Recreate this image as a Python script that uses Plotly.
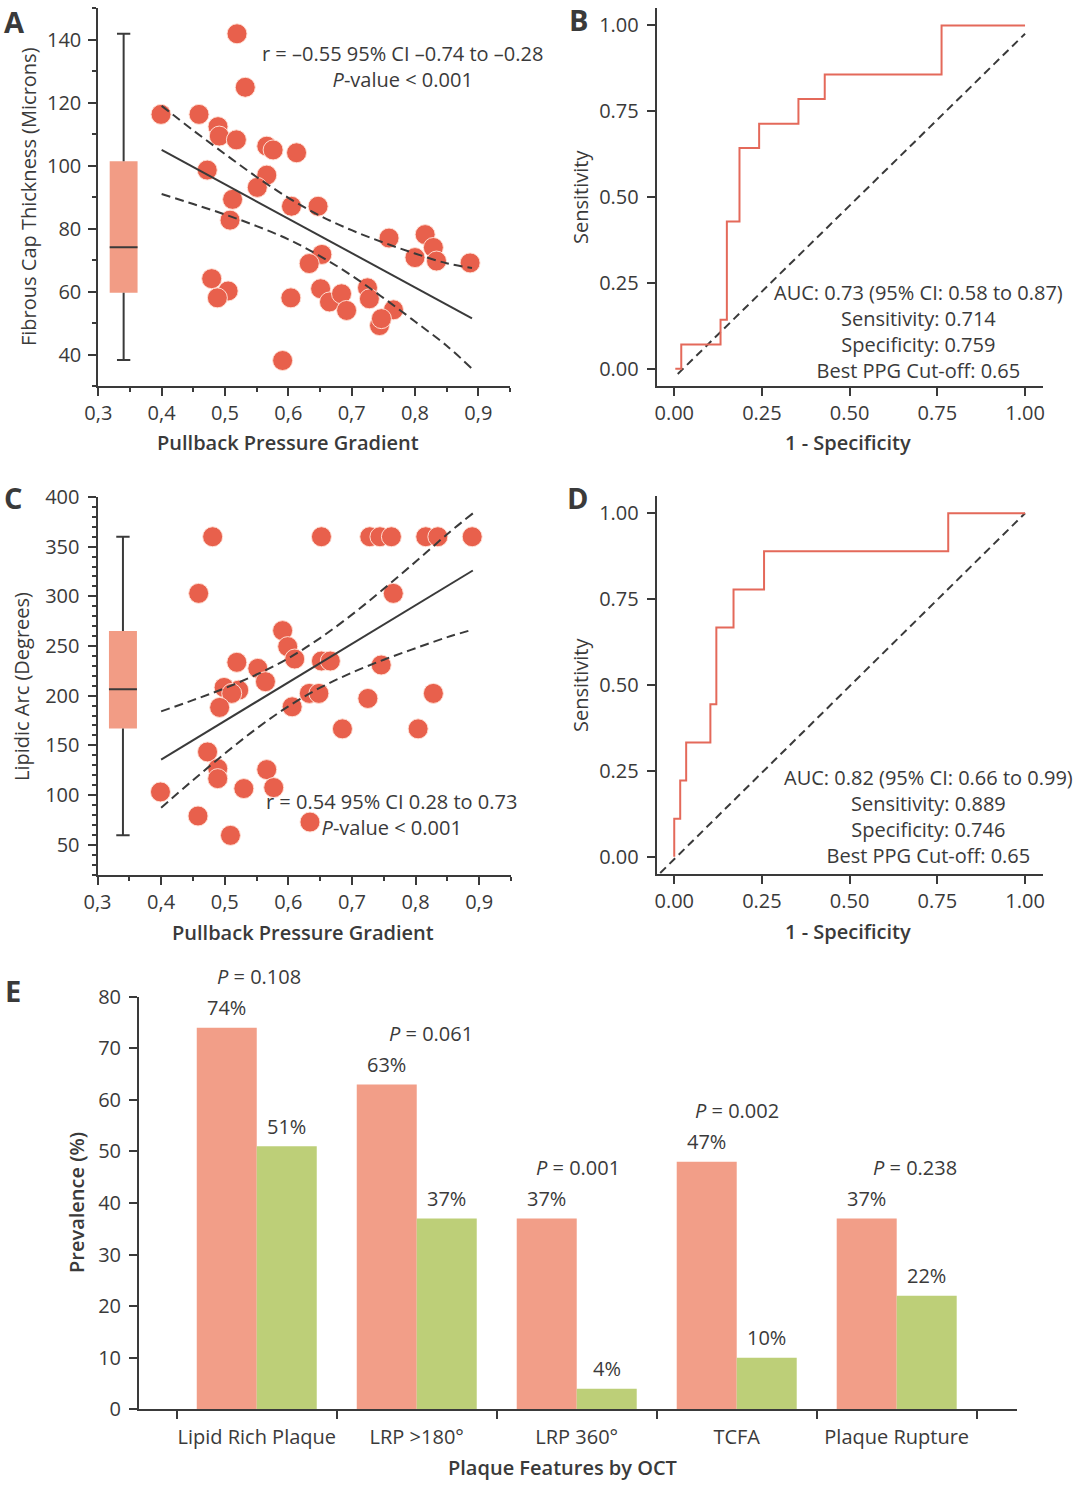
import plotly.graph_objects as go

# ---------------- data ----------------
ppg_ticks = [0.3, 0.4, 0.5, 0.6, 0.7, 0.8, 0.9]
ppg_ticktext = ["0,3", "0,4", "0,5", "0,6", "0,7", "0,8", "0,9"]

# Panel A: fibrous cap thickness vs PPG
ppg_a = [0.519, 0.532, 0.399, 0.459, 0.489, 0.491, 0.518, 0.566, 0.576, 0.613,
         0.472, 0.566, 0.551, 0.512, 0.605, 0.647, 0.508, 0.759, 0.816, 0.829,
         0.800, 0.834, 0.887, 0.653, 0.633, 0.479, 0.505, 0.488, 0.651, 0.665,
         0.684, 0.692, 0.604, 0.725, 0.728, 0.766, 0.744, 0.747, 0.591]
fct_a = [141.9, 124.9, 116.3, 116.3, 112.4, 109.4, 108.2, 106.2, 105.0, 104.1,
         98.6, 97.0, 93.1, 89.3, 87.1, 87.1, 82.7, 77.0, 78.1, 74.0,
         70.8, 69.7, 69.1, 71.8, 68.9, 64.1, 60.2, 58.0, 60.9, 56.7,
         59.3, 54.0, 58.0, 61.2, 57.7, 54.2, 49.2, 51.4, 38.1]
fct_box = [38.3, 59.6, 74.1, 101.4, 141.9]          # min, q1, median, q3, max
fit_a_x = [0.40, 0.89]
fit_a_y = [105.0, 51.5]
band_x = [0.40, 0.45, 0.50, 0.55, 0.60, 0.65, 0.70, 0.75, 0.80, 0.85, 0.89]
band_a_upper = [119.0, 111.2, 103.7, 96.4, 89.8, 84.1, 79.5, 75.6, 72.1, 69.0, 67.5]
band_a_lower = [91.0, 87.8, 84.5, 80.8, 76.6, 71.3, 65.1, 58.0, 50.5, 42.8, 35.5]
stats_a = ["r = –0.55 95% CI –0.74 to –0.28", "<i>P</i>-value < 0.001"]

# Panel B: ROC
roc_b_fpr = [0.003, 0.020, 0.132, 0.150, 0.186, 0.242, 0.354, 0.429, 0.762, 1.000]
roc_b_tpr = [0.000, 0.071, 0.143, 0.429, 0.643, 0.714, 0.786, 0.857, 1.000, 1.000]
diag_b_x = [0.01, 1.00]
diag_b_y = [-0.015, 0.976]
roc_b_text = ["AUC: 0.73 (95% CI: 0.58 to 0.87)", "Sensitivity: 0.714",
              "Specificity: 0.759", "Best PPG Cut-off: 0.65"]

# Panel C: lipidic arc vs PPG
ppg_c = [0.481, 0.652, 0.728, 0.744, 0.762, 0.816, 0.835, 0.889,
         0.459, 0.765,
         0.591, 0.599, 0.610, 0.519, 0.552, 0.652, 0.666, 0.746, 0.564,
         0.499, 0.522, 0.511,
         0.633, 0.648, 0.828, 0.725, 0.492, 0.606, 0.685, 0.804,
         0.473, 0.489, 0.489, 0.566, 0.399, 0.530, 0.577, 0.458, 0.634, 0.509]
arc_c = [360, 360, 360, 360, 360, 360, 360, 360,
         303, 303,
         265.5, 249.4, 236.9, 233.6, 227.5, 234.9, 234.9, 230.9, 214.1,
         208.3, 205.6, 202.3,
         202.3, 202.3, 202.3, 197.2, 188.2, 188.8, 166.6, 166.6,
         143.4, 126.6, 116.5, 125.6, 103.1, 106.5, 107.5, 78.9, 72.8, 59.4]
arc_box = [59.4, 167.0, 206.5, 265.0, 360.0]        # min, q1, median, q3, max
fit_c_x = [0.40, 0.89]
fit_c_y = [135.7, 326.0]
band_c_upper = [184.2, 195.5, 207.5, 221.3, 237.7, 258.0, 281.6, 307.6, 334.8, 362.7, 383.5]
band_c_lower = [87.2, 114.9, 141.7, 166.9, 189.3, 208.0, 223.2, 236.2, 247.8, 258.9, 266.5]
stats_c = ["r = 0.54 95% CI 0.28 to 0.73", "<i>P</i>-value < 0.001"]

# Panel D: ROC
roc_d_fpr = [0.000, 0.000, 0.017, 0.034, 0.103, 0.120, 0.169, 0.256, 0.781, 1.000]
roc_d_tpr = [0.000, 0.111, 0.222, 0.333, 0.444, 0.667, 0.778, 0.889, 1.000, 1.000]
diag_d_x = [-0.04, 1.00]
diag_d_y = [-0.047, 1.00]
roc_d_text = ["AUC: 0.82 (95% CI: 0.66 to 0.99)", "Sensitivity: 0.889",
              "Specificity: 0.746", "Best PPG Cut-off: 0.65"]

# Panel E: prevalence bars
features = ["Lipid Rich Plaque", "LRP >180°", "LRP 360°", "TCFA", "Plaque Rupture"]
prev_salmon = [74, 63, 37, 48, 37]
prev_green = [51, 37, 4, 10, 22]
labels_salmon = ["74%", "63%", "37%", "47%", "37%"]
labels_green = ["51%", "37%", "4%", "10%", "22%"]
p_values = ["0.108", "0.061", "0.001", "0.002", "0.238"]

# ---------------- style ----------------
FONT = "Open Sans"
TXT = "#3a3a3a"
AX = "#3a3a3a"
DOT = "#E8604C"
BOXC = "#F29C85"
ROCC = "#E4695A"
SALMON = "#F29E88"
GREEN = "#BDCF78"
W, H = 1080, 1509


def P(xpx):
    return xpx / W


def Q(ypx):
    return 1 - ypx / H


fig = go.Figure()


def add_box(stats, xa, ya, c=0.34, bw=0.044, cw=0.021):
    lo, q1, med, q3, hi = stats
    fig.add_trace(go.Bar(x=[c], y=[q3 - q1], base=[q1], width=[bw],
                         marker=dict(color=BOXC, line=dict(width=0)),
                         xaxis=xa, yaxis=ya, hoverinfo="skip"))
    fig.add_trace(go.Scatter(
        x=[c, c, None, c, c, None, c - cw / 2, c + cw / 2, None, c - cw / 2, c + cw / 2, None, c - bw / 2, c + bw / 2],
        y=[lo, q1, None, q3, hi, None, lo, lo, None, hi, hi, None, med, med],
        mode="lines", line=dict(color=AX, width=2), xaxis=xa, yaxis=ya, hoverinfo="skip"))


def add_scatter(xs, ys, fx, fy, bu, bl, xa, ya):
    fig.add_trace(go.Scatter(x=xs, y=ys, mode="markers",
                             marker=dict(size=20, color=DOT,
                                         line=dict(color="rgba(255,225,215,0.95)", width=1)),
                             xaxis=xa, yaxis=ya))
    fig.add_trace(go.Scatter(x=fx, y=fy, mode="lines", line=dict(color=AX, width=2),
                             xaxis=xa, yaxis=ya))
    for b in (bu, bl):
        fig.add_trace(go.Scatter(x=band_x, y=b, mode="lines", line_shape="spline",
                                 line=dict(color=AX, width=2, dash="9px,5px"),
                                 xaxis=xa, yaxis=ya))


def add_roc(fpr, tpr, dx, dy, xa, ya):
    fig.add_trace(go.Scatter(x=dx, y=dy, mode="lines",
                             line=dict(color=AX, width=2, dash="8px,5px"),
                             xaxis=xa, yaxis=ya))
    fig.add_trace(go.Scatter(x=fpr, y=tpr, mode="lines", line_shape="hv",
                             line=dict(color=ROCC, width=2), xaxis=xa, yaxis=ya))


add_box(fct_box, "x", "y")
add_scatter(ppg_a, fct_a, fit_a_x, fit_a_y, band_a_upper, band_a_lower, "x", "y")
add_roc(roc_b_fpr, roc_b_tpr, diag_b_x, diag_b_y, "x2", "y2")
add_box(arc_box, "x3", "y3")
add_scatter(ppg_c, arc_c, fit_c_x, fit_c_y, band_c_upper, band_c_lower, "x3", "y3")
add_roc(roc_d_fpr, roc_d_tpr, diag_d_x, diag_d_y, "x4", "y4")

fig.add_trace(go.Bar(x=features, y=prev_salmon, marker=dict(color=SALMON, line=dict(width=0)),
                     xaxis="x5", yaxis="y5", offsetgroup="a"))
fig.add_trace(go.Bar(x=features, y=prev_green, marker=dict(color=GREEN, line=dict(width=0)),
                     xaxis="x5", yaxis="y5", offsetgroup="b"))

tickfont = dict(family=FONT, size=20, color=TXT)
common = dict(showline=True, linecolor=AX, linewidth=2, ticks="outside", ticklen=8,
              tickwidth=2, tickcolor=AX, showgrid=False, zeroline=False,
              tickfont=tickfont, fixedrange=True, automargin=False, tickangle=0)
minor_common = dict(ticks="outside", ticklen=4, tickwidth=2, tickcolor=AX, showgrid=False)
roc_ticks = [0, 0.25, 0.5, 0.75, 1.0]

fig.update_layout(
    template="none",
    width=W, height=H, margin=dict(l=0, r=0, t=0, b=0, pad=0, autoexpand=False),
    paper_bgcolor="white", plot_bgcolor="white", showlegend=False,
    barmode="group", bargap=0.25, bargroupgap=0,
    font=dict(family=FONT, color=TXT, size=20),
    xaxis=dict(domain=[P(98.3), P(510)], range=[0.3, 0.95], anchor="y",
               tickmode="array", tickvals=ppg_ticks, ticktext=ppg_ticktext,
               minor=dict(tickmode="linear", tick0=0.35, dtick=0.1, **minor_common), **common),
    yaxis=dict(domain=[Q(386), Q(8.3)], range=[30, 150], anchor="x",
               tickmode="array", tickvals=[40, 60, 80, 100, 120, 140], ticklabelstandoff=3,
               minor=dict(tickmode="linear", tick0=30, dtick=10, **minor_common), **common),
    xaxis2=dict(domain=[P(656.7), P(1042.6)], range=[-0.05, 1.05], anchor="y2",
                tickmode="array", tickvals=roc_ticks, tickformat=".2f", **common),
    yaxis2=dict(domain=[Q(386), Q(8.3)], range=[-0.05, 1.05], anchor="x2",
                tickmode="array", tickvals=roc_ticks, tickformat=".2f", ticklabelstandoff=4, **common),
    xaxis3=dict(domain=[P(97.5), P(511)], range=[0.3, 0.95], anchor="y3",
                tickmode="array", tickvals=ppg_ticks, ticktext=ppg_ticktext,
                minor=dict(tickmode="linear", tick0=0.35, dtick=0.1, **minor_common), **common),
    yaxis3=dict(domain=[Q(875), Q(497)], range=[19.5, 400], anchor="x3",
                tickmode="array", tickvals=[50, 100, 150, 200, 250, 300, 350, 400], ticklabelstandoff=4,
                minor=dict(tickmode="linear", tick0=20, dtick=10, **minor_common), **common),
    xaxis4=dict(domain=[P(656.7), P(1042.6)], range=[-0.05, 1.05], anchor="y4",
                tickmode="array", tickvals=roc_ticks, tickformat=".2f", **common),
    yaxis4=dict(domain=[Q(874), Q(496)], range=[-0.05, 1.05], anchor="x4",
                tickmode="array", tickvals=roc_ticks, tickformat=".2f", ticklabelstandoff=4, **common),
    xaxis5=dict(domain=[P(139), P(1016.7)], range=[-0.736, 4.75], anchor="y5",
                type="category", tickson="boundaries", ticklabelstandoff=9, **common),
    yaxis5=dict(domain=[Q(1409.3), Q(996.7)], range=[0, 80], anchor="x5",
                tickmode="linear", tick0=0, dtick=10, ticklabelstandoff=4, **common),
)

ann = []


def txt(text, x, y, size=20, weight=400, angle=0, xanchor="center"):
    ann.append(dict(text=text, x=P(x), y=Q(y), xref="paper", yref="paper",
                    showarrow=False, textangle=angle, xanchor=xanchor, yanchor="middle",
                    font=dict(family=FONT, size=size, color=TXT, weight=weight)))


# panel letters
for letter, x, y in [("A", 14, 22), ("B", 578, 20), ("C", 13, 497), ("D", 577, 497), ("E", 13, 991)]:
    txt(letter, x, y, size=29, weight=700)

# axis titles
txt("Fibrous Cap Thickness (Microns)", 28, 197, angle=-90)
txt("Pullback Pressure Gradient", 288, 443, weight=600)
txt("Sensitivity", 580, 197, weight=500, angle=-90)
txt("1 - Specificity", 848, 443, weight=600)
txt("Lipidic Arc (Degrees)", 22, 687, angle=-90)
txt("Pullback Pressure Gradient", 303, 932, weight=600)
txt("Sensitivity", 580, 685, weight=500, angle=-90)
txt("1 - Specificity", 848, 931, weight=600)
txt("Prevalence (%)", 76, 1203, weight=600, angle=-90)
txt("Plaque Features by OCT", 562, 1467, weight=600)

# in-plot statistics (multi-line blocks)
txt("<br>".join(stats_a), 402, 66.5)
txt("<br>".join(stats_c), 391, 814)
txt("<br>".join(roc_b_text), 918, 331.5)
txt("<br>".join(roc_d_text), 928, 816.5)

# bar labels
p_xshift = [2, 14, 1, 0, 18]
for i, f in enumerate(features):
    ann.append(dict(text=labels_salmon[i], x=f, y=prev_salmon[i], xref="x5", yref="y5",
                    xshift=-30, yshift=20, showarrow=False, yanchor="middle",
                    font=dict(family=FONT, size=20, color=TXT)))
    ann.append(dict(text=labels_green[i], x=f, y=prev_green[i], xref="x5", yref="y5",
                    xshift=30, yshift=20, showarrow=False, yanchor="middle",
                    font=dict(family=FONT, size=20, color=TXT)))
    ann.append(dict(text=f"<i>P</i> = {p_values[i]}", x=f, y=max(prev_salmon[i], prev_green[i]),
                    xref="x5", yref="y5", xshift=p_xshift[i], yshift=51, showarrow=False,
                    yanchor="middle", font=dict(family=FONT, size=20, color=TXT)))

fig.update_layout(annotations=ann)
# remove the browser's default 8px page margin so the figure sits at the window origin
fig.write_html("out.html", config={"displayModeBar": False, "staticPlot": True},
               post_script="document.body.style.margin='0';document.body.style.overflow='hidden';")
